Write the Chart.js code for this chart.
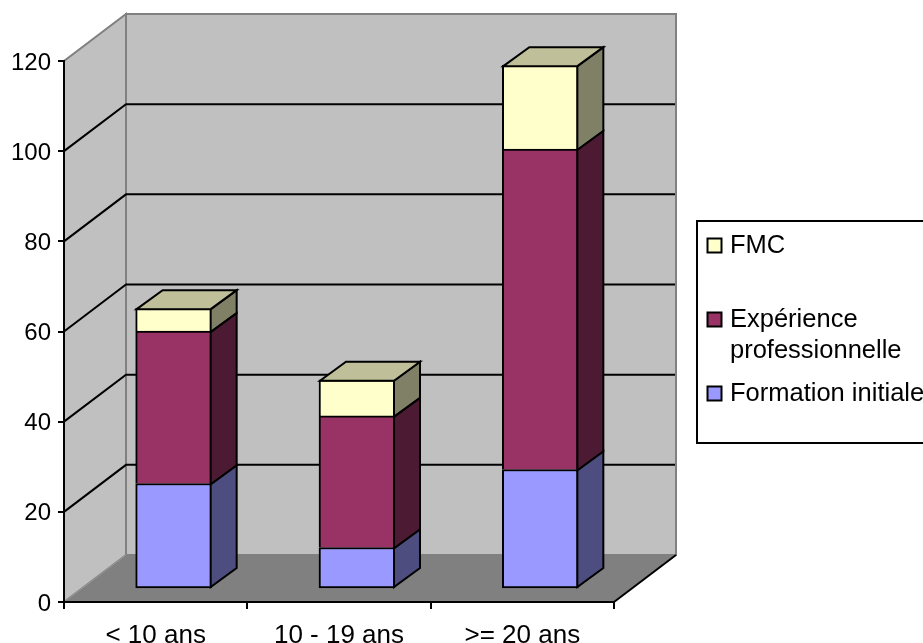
<!DOCTYPE html>
<html>
<head>
<meta charset="utf-8">
<title>Formation</title>
<script src="https://cdn.jsdelivr.net/npm/chart.js@4"></script>
<style>
  body { margin: 0; background: #fff; overflow: hidden; }
  canvas { display: block; }
</style>
</head>
<body>
<canvas id="chart" width="923" height="643"></canvas>
<script>
// Values
const categories = ['< 10 ans', '10 - 19 ans', '>= 20 ans'];
const formationInitiale = [23.4, 9.2, 26.5];
const experiencePro = [33.8, 29.2, 71.1];
const fmc = [5.1, 8, 18.6];
const yTicks = [0, 20, 40, 60, 80, 100, 120];

const seriesNames = ['Formation initiale', 'Expérience professionnelle', 'FMC'];
const legendLines = [['FMC'], ['Expérience', 'professionnelle'], ['Formation initiale']];

// Colours: front face, side face, top face
const frontColors = ['#9999FF', '#993366', '#FFFFCC'];
const sideColors = ['#4D4D80', '#4D1A33', '#808066'];
const topColor = '#BFBF99';

// 3D look
const WALL_DX = 62, WALL_DY = -47; // depth of the whole plot box
const BAR_DX = 18, BAR_DY = -13;   // how far the bars sit inside the box
const SIDE_DX = 26, SIDE_DY = -19; // depth of a bar

const FAMILY = '"Liberation Sans", Arial, sans-serif';

function poly(ctx, pts, fill, stroke, width) {
  ctx.beginPath();
  pts.forEach((p, i) => i ? ctx.lineTo(p[0], p[1]) : ctx.moveTo(p[0], p[1]));
  ctx.closePath();
  if (fill) { ctx.fillStyle = fill; ctx.fill(); }
  if (stroke) { ctx.strokeStyle = stroke; ctx.lineWidth = width; ctx.stroke(); }
}

// Walls, floor and grid lines go behind the axes
const box3d = {
  id: 'box3d',
  beforeDraw(chart) {
    const ctx = chart.ctx, a = chart.chartArea, y = chart.scales.y;
    const l = a.left, r = a.right, t = a.top, b = a.bottom;
    const dx = WALL_DX, dy = WALL_DY;

    // y labels sit a little lower than the tick in the original
    y.getLabelItems().forEach(item => { item.options.translation[1] += 2; });

    ctx.save();
    poly(ctx, [[l, b], [l + dx, b + dy], [l + dx, t + dy], [l, t]], '#C0C0C0', '#808080', 2);
    poly(ctx, [[l + dx, t + dy], [r + dx, t + dy], [r + dx, b + dy], [l + dx, b + dy]], '#C0C0C0', '#808080', 2);
    poly(ctx, [[l, b], [l + dx, b + dy], [r + dx, b + dy], [r, b]], '#808080', null);
    ctx.beginPath();
    ctx.moveTo(l, b); ctx.lineTo(l + dx, b + dy);
    ctx.strokeStyle = '#999999'; ctx.lineWidth = 1; ctx.stroke();
    ctx.beginPath();
    ctx.moveTo(r, b); ctx.lineTo(r + dx, b + dy);
    ctx.strokeStyle = '#000'; ctx.lineWidth = 2; ctx.stroke();

    ctx.strokeStyle = '#000';
    ctx.lineWidth = 2;
    yTicks.forEach(v => {
      if (v === 0 || v === 120) return;
      const py = y.getPixelForValue(v);
      ctx.beginPath();
      ctx.moveTo(l, py);
      ctx.lineTo(l + dx, py + dy);
      ctx.lineTo(r + dx - 1, py + dy);
      ctx.stroke();
    });
    ctx.restore();
  },
  // shift the library's own bars back into the box
  beforeDatasetDraw(chart) {
    chart.ctx.save();
    chart.ctx.translate(BAR_DX, BAR_DY);
  },
  afterDatasetDraw(chart, args) {
    const ctx = chart.ctx;
    const meta = chart.getDatasetMeta(args.index);
    const last = args.index === chart.data.datasets.length - 1;
    meta.data.forEach(bar => {
      const p = bar.getProps(['x', 'y', 'base', 'width'], true);
      const lft = p.x - p.width / 2 + 1, rgt = p.x + p.width / 2 - 1;
      const top = p.y + 1, bot = p.base + (args.index ? 1 : -1);
      poly(ctx, [[rgt, top], [rgt + SIDE_DX, top + SIDE_DY], [rgt + SIDE_DX, bot + SIDE_DY], [rgt, bot]],
        sideColors[args.index], '#000', 2);
      if (last) {
        poly(ctx, [[lft, top], [lft + SIDE_DX, top + SIDE_DY], [rgt + SIDE_DX, top + SIDE_DY], [rgt, top]],
          topColor, '#000', 2);
      }
    });
    ctx.restore();
  }
};

// Legend box runs off the right edge like in the original
const legendBox = {
  id: 'legendBox',
  afterDraw(chart) {
    const ctx = chart.ctx;
    ctx.save();
    ctx.fillStyle = '#fff';
    ctx.strokeStyle = '#000';
    ctx.lineWidth = 2;
    ctx.fillRect(697, 221, 240, 222);
    ctx.strokeRect(697, 221, 240, 222);
    ctx.font = '25.5px ' + FAMILY;
    ctx.textBaseline = 'alphabetic';
    const rows = [
      { swatch: 2, y: 245, base: [253] },
      { swatch: 1, y: 319, base: [327, 358] },
      { swatch: 0, y: 393, base: [401] }
    ];
    rows.forEach((row, i) => {
      ctx.fillStyle = frontColors[row.swatch];
      ctx.fillRect(707.5, row.y - 6.5, 14, 14);
      ctx.strokeRect(707.5, row.y - 6.5, 14, 14);
      ctx.fillStyle = '#000';
      legendLines[i].forEach((line, j) => ctx.fillText(line, 730, row.base[j]));
    });
    ctx.restore();
  }
};

const values = [formationInitiale, experiencePro, fmc];

new Chart(document.getElementById('chart'), {
  type: 'bar',
  data: {
    labels: categories,
    datasets: seriesNames.map((name, i) => ({
      label: name,
      data: values[i],
      backgroundColor: frontColors[i],
      borderColor: '#000',
      borderWidth: { top: 2, left: 2, right: 2, bottom: i === 0 ? 2 : 0 },
      borderSkipped: false,
      barThickness: 76,
      clip: false
    }))
  },
  options: {
    responsive: false,
    animation: false,
    layout: { padding: { top: 61, right: 309 } },
    plugins: { legend: { display: false }, tooltip: { enabled: false } },
    scales: {
      x: {
        stacked: true,
        afterFit(scale) { scale.height = 41; },
        border: { color: '#000', width: 2 },
        grid: { drawOnChartArea: false, color: '#000', lineWidth: 2, tickLength: 7 },
        ticks: { color: '#000', font: { family: FAMILY, size: 26 }, maxRotation: 0, autoSkip: false, padding: 11 }
      },
      y: {
        stacked: true,
        min: 0,
        max: 120,
        afterFit(scale) { scale.width = 64; },
        afterBuildTicks(scale) { scale.ticks = yTicks.map(v => ({ value: v })); },
        border: { color: '#000', width: 2 },
        grid: { drawOnChartArea: false, color: '#000', lineWidth: 2, tickLength: 6 },
        ticks: { color: '#000', font: { family: FAMILY, size: 24 }, padding: 7 }
      }
    }
  },
  plugins: [box3d, legendBox]
});
</script>
</body>
</html>
